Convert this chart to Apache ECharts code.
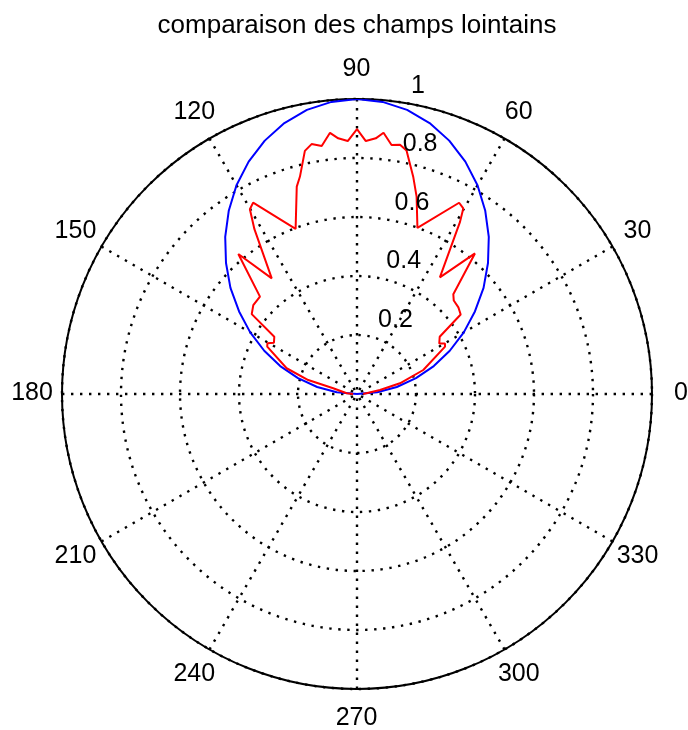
<!DOCTYPE html>
<html>
<head>
<meta charset="utf-8">
<script src="https://cdn.jsdelivr.net/npm/echarts@6/dist/echarts.min.js"></script>
<style>
html,body{margin:0;padding:0;background:#fff;}
#chart{width:688px;height:730px;}
</style>
</head>
<body>
<div id="chart"></div>
<script>
const titleText = 'comparaison des champs lointains';
const ringTicks = [0.2, 0.4, 0.6, 0.8, 1];
const angleTicks = [0, 30, 60, 90, 120, 150, 180, 210, 240, 270, 300, 330];

const blueAngles = [0, 5, 10, 15, 20, 25, 30, 35, 40, 45, 50, 55, 60, 65, 70, 75, 80, 85, 90,
  95, 100, 105, 110, 115, 120, 125, 130, 135, 140, 145, 150, 155, 160, 165, 170, 175, 180];
const blueValues = [0, 0.069, 0.137, 0.207, 0.277, 0.347, 0.418, 0.488, 0.560, 0.628, 0.695, 0.758, 0.817, 0.869, 0.914, 0.951, 0.978, 0.994, 1.0,
  0.994, 0.978, 0.951, 0.914, 0.869, 0.817, 0.758, 0.695, 0.628, 0.560, 0.488, 0.418, 0.347, 0.277, 0.207, 0.137, 0.069, 0];

const redAngles = [0, 5, 9.9, 14.0, 19.9, 28.3, 29.9, 31.5, 34.7, 37.5, 40.5, 44.0, 46.0, 50.0, 54.6, 59.1, 60.2, 61.9,
  70.0, 73.2, 75.5, 78.5, 80.2, 82.1, 84.2, 85.8, 88.0, 90, 92.1, 94.2, 95.9, 98.1, 100.3, 102.1, 104.7, 106.2, 110.4,
  118.5, 120.1, 121.9, 126.4, 130.3, 134.9, 139.4, 142.8, 145.3, 148.3, 150.5, 152.2, 159.9, 164.0, 166.5, 176, 180];
const redValues = [0.021, 0.027, 0.079, 0.150, 0.239, 0.339, 0.344, 0.327, 0.341, 0.443, 0.452, 0.456, 0.470, 0.622, 0.485, 0.680, 0.725, 0.735,
  0.599, 0.699, 0.761, 0.842, 0.857, 0.852, 0.890, 0.869, 0.858, 0.898, 0.858, 0.869, 0.890, 0.849, 0.861, 0.843, 0.762, 0.732, 0.597,
  0.738, 0.724, 0.658, 0.487, 0.622, 0.466, 0.463, 0.448, 0.341, 0.331, 0.349, 0.344, 0.254, 0.172, 0.083, 0.035, 0.013];

const FONT = "Arial, 'Liberation Sans', Helvetica, sans-serif";
const dotted = { color: '#000', width: 2.4, type: [2.4, 6.6] };

const chart = echarts.init(document.getElementById('chart'), null, { renderer: 'canvas' });
chart.setOption({
  animation: false,
  backgroundColor: '#fff',
  title: {
    text: titleText,
    left: 357, top: 13, textAlign: 'center', padding: 0,
    textStyle: { fontFamily: FONT, fontSize: 26, fontWeight: 'normal', color: '#000' }
  },
  polar: { center: [357, 394], radius: [0, 295] },
  angleAxis: {
    type: 'value', min: 0, max: 360, interval: 30,
    startAngle: 0, clockwise: false,
    axisLine: { show: true, lineStyle: { color: '#000', width: 2 } },
    axisTick: { show: false },
    axisLabel: { show: false },
    splitLine: { show: true, lineStyle: dotted }
  },
  radiusAxis: {
    type: 'value', min: 0, max: 1, interval: 0.2,
    axisLine: { show: false }, axisTick: { show: false }, axisLabel: { show: false },
    splitLine: { show: true, lineStyle: dotted }
  },
  series: [
    {
      type: 'line', coordinateSystem: 'polar', symbol: 'none', z: 3,
      lineStyle: { color: '#0000ff', width: 2 },
      data: blueAngles.map((a, i) => [blueValues[i], a])
    },
    {
      type: 'line', coordinateSystem: 'polar', symbol: 'none', z: 4,
      lineStyle: { color: '#ff0000', width: 2 },
      data: redAngles.map((a, i) => [redValues[i], a])
    },
    {
      type: 'scatter', coordinateSystem: 'polar', clip: false, silent: true, z: 5,
      symbolSize: 1, itemStyle: { color: 'rgba(0,0,0,0)' },
      label: {
        show: true, position: [13, 0], align: 'left', verticalAlign: 'bottom',
        fontFamily: FONT, fontSize: 25, color: '#000', opacity: 1,
        formatter: p => String(p.data.tick)
      },
      data: ringTicks.map(t => ({ value: [t + 0.01, 82], tick: t }))
    },
    {
      type: 'scatter', coordinateSystem: 'polar', clip: false, silent: true, z: 5,
      symbolSize: 1, itemStyle: { color: 'rgba(0,0,0,0)' },
      label: {
        show: true, position: [0, 0], align: 'center', verticalAlign: 'middle',
        fontFamily: FONT, fontSize: 25, color: '#000', opacity: 1,
        formatter: p => String(p.data.tick)
      },
      data: angleTicks.map(t => ({ value: [1.1, t], tick: t }))
    }
  ]
});
</script>
</body>
</html>
